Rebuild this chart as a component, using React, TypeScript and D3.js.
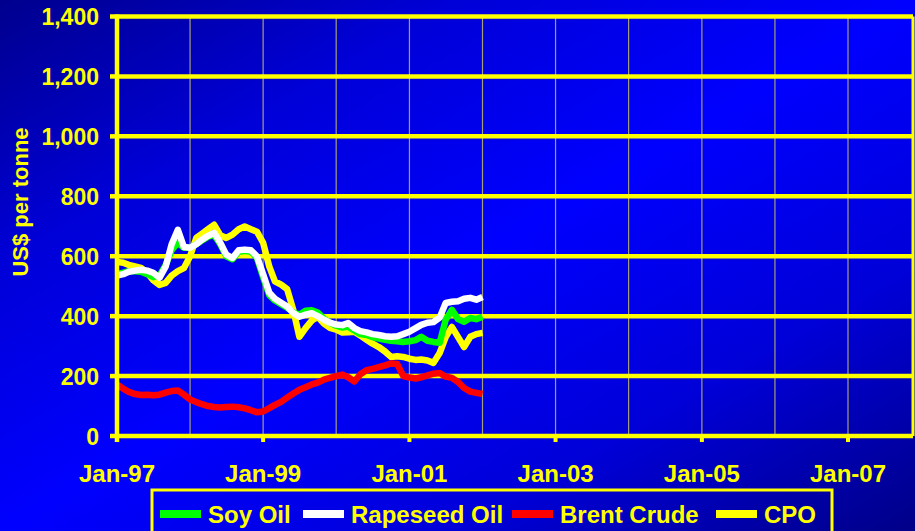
import React from "react";
import * as d3 from "d3";

// Monthly prices, US$ per tonne, starting Jan-97
const START_YEAR = 1997;

const soyOil = [
  540, 545, 550, 550, 548, 540, 530, 535, 570, 620, 645, 628,
  628, 640, 652, 665, 672, 640, 600, 590, 615, 618, 615, 595,
  530, 470, 452, 440, 428, 412, 405, 418, 420, 412, 392, 378,
  368, 362, 365, 352, 340, 337, 330, 325, 321, 318, 316, 314,
  316, 320, 331, 318, 314, 311, 388, 421, 390, 381, 394, 390,
  398,
];

const rapeseedOil = [
  535, 540, 548, 552, 555, 552, 545, 528, 565, 640, 688, 631,
  628, 640, 655, 668, 678, 645, 605, 594, 620, 622, 620, 600,
  540, 478, 458, 445, 432, 410, 398, 405, 410, 400, 388, 378,
  372, 370, 377, 360, 350, 346, 340, 337, 333, 331, 333, 340,
  348, 360, 371, 378, 380, 395, 444, 448, 450, 458, 461, 455,
  464,
];

const brentCrude = [
  172, 158, 147, 140, 137, 138, 136, 138, 145, 150, 152, 138,
  122, 113, 106, 100, 97, 95, 97, 98, 96, 92, 86, 79,
  82, 93, 104, 114, 128, 142, 154, 163, 172, 178, 188, 194,
  200, 205, 196, 182, 206, 220, 224, 230, 236, 242, 240, 200,
  195, 192, 196, 202, 208, 210, 198, 194, 180, 160, 148, 144,
  140,
];

const cpo = [
  581, 578, 571, 566, 561, 545, 520, 504, 511, 535, 550, 560,
  600, 661, 675, 690, 705, 670, 661, 672, 690, 699, 690, 682,
  645, 565, 516, 505, 490, 420, 331, 360, 385, 398, 375, 361,
  355, 345, 346, 348, 335, 321, 308, 297, 282, 264, 266, 264,
  258, 254, 255, 252, 244, 277, 330, 364, 330, 297, 331, 340,
  344,
];

const yTickValues = [0, 200, 400, 600, 800, 1000, 1200, 1400];
const gridYears = [1997, 1998, 1999, 2000, 2001, 2002, 2003, 2004, 2005, 2006, 2007];
const labelYears = [1997, 1999, 2001, 2003, 2005, 2007];

const seriesNames = ["Soy Oil", "Rapeseed Oil", "Brent Crude", "CPO"];
const seriesColors = ["#00ff00", "#ffffff", "#ff0000", "#ffff00"];
const seriesValues = [soyOil, rapeseedOil, brentCrude, cpo];
// drawing order: CPO underneath, then soy, rapeseed, brent
const drawOrder = [3, 0, 1, 2];

const W = 915;
const H = 531;
const FONT = "'Liberation Sans', Arial, sans-serif";
const YELLOW = "#ffff00";

const PLOT = { left: 117, right: 913, top: 16.5, bottom: 436 };
const LEGEND_SWATCH_X = [160, 303, 512, 716];

const fmtLabel = d3.timeFormat("%b-%y");
const fmtTick = d3.format(",");

export default function App() {
  const x = d3
    .scaleTime()
    .domain([new Date(1997, 0, 1), new Date(2007, 0, 1)])
    .range([PLOT.left, 848]);
  const y = d3.scaleLinear().domain([0, 1400]).range([PLOT.bottom, PLOT.top]);

  const line = d3
    .line<number>()
    .x((_, i) => x(new Date(START_YEAR, i, 1)))
    .y((v) => y(v))
    .curve(d3.curveLinear);

  return (
    <div style={{ position: "fixed", left: 0, top: 0 }}>
      <svg width={W} height={H} style={{ display: "block" }}>
        <defs>
          <linearGradient id="bg" x1="0" y1="0" x2="1" y2="1">
            <stop offset="0" stopColor="#00008e" />
            <stop offset="0.25" stopColor="#0000d8" />
            <stop offset="0.5" stopColor="#0000ff" />
            <stop offset="0.75" stopColor="#0000d8" />
            <stop offset="1" stopColor="#000088" />
          </linearGradient>
        </defs>
        <rect x={0} y={0} width={W} height={H} fill="url(#bg)" />

        {/* yearly vertical gridlines */}
        {gridYears.slice(1).map((yr) => (
          <line
            key={yr}
            x1={x(new Date(yr, 0, 1))}
            x2={x(new Date(yr, 0, 1))}
            y1={PLOT.top}
            y2={PLOT.bottom}
            stroke="#a39f7a"
            strokeWidth={1.2}
          />
        ))}

        {/* horizontal gridlines */}
        {yTickValues.slice(1).map((v) => (
          <line
            key={v}
            x1={PLOT.left}
            x2={PLOT.right}
            y1={y(v)}
            y2={y(v)}
            stroke={YELLOW}
            strokeWidth={4.5}
          />
        ))}

        {/* right frame */}
        <line x1={PLOT.right} x2={PLOT.right} y1={PLOT.top} y2={PLOT.bottom} stroke={YELLOW} strokeWidth={3} />

        {/* series */}
        {drawOrder.map((si) => (
          <path
            key={seriesNames[si]}
            d={line(seriesValues[si]) || ""}
            fill="none"
            stroke={seriesColors[si]}
            strokeWidth={6.5}
            strokeLinejoin="round"
            strokeLinecap="butt"
          />
        ))}

        {/* axes */}
        <line x1={PLOT.left} x2={PLOT.right} y1={PLOT.bottom} y2={PLOT.bottom} stroke={YELLOW} strokeWidth={4.5} />
        <line x1={PLOT.left} x2={PLOT.left} y1={PLOT.top - 2} y2={PLOT.bottom + 6} stroke={YELLOW} strokeWidth={4.5} />

        {yTickValues.map((v) => (
          <g key={v}>
            <line x1={PLOT.left - 7} x2={PLOT.left} y1={y(v)} y2={y(v)} stroke={YELLOW} strokeWidth={4.5} />
            <text
              x={99}
              y={y(v) + 8.5}
              textAnchor="end"
              fill={YELLOW}
              fontFamily={FONT}
              fontWeight="bold"
              fontSize={23}
            >
              {fmtTick(v)}
            </text>
          </g>
        ))}

        {labelYears.map((yr) => {
          const d = new Date(yr, 0, 1);
          return (
            <g key={yr}>
              <line x1={x(d)} x2={x(d)} y1={PLOT.bottom} y2={PLOT.bottom + 6} stroke={YELLOW} strokeWidth={4} />
              <text
                x={x(d)}
                y={482}
                textAnchor="middle"
                fill={YELLOW}
                fontFamily={FONT}
                fontWeight="bold"
                fontSize={24}
              >
                {fmtLabel(d)}
              </text>
            </g>
          );
        })}

        <text
          transform="translate(27.5,202) rotate(-90)"
          textAnchor="middle"
          fill={YELLOW}
          fontFamily={FONT}
          fontWeight="bold"
          fontSize={22}
        >
          US$ per tonne
        </text>

        {/* legend */}
        <rect x={152} y={490} width={680} height={60} fill="none" stroke={YELLOW} strokeWidth={3} />
        {seriesNames.map((name, i) => (
          <g key={name}>
            <rect x={LEGEND_SWATCH_X[i]} y={510} width={41} height={8} fill={seriesColors[i]} />
            <text
              x={LEGEND_SWATCH_X[i] + 48}
              y={522.5}
              fill={YELLOW}
              fontFamily={FONT}
              fontWeight="bold"
              fontSize={24}
            >
              {name}
            </text>
          </g>
        ))}
      </svg>
    </div>
  );
}
